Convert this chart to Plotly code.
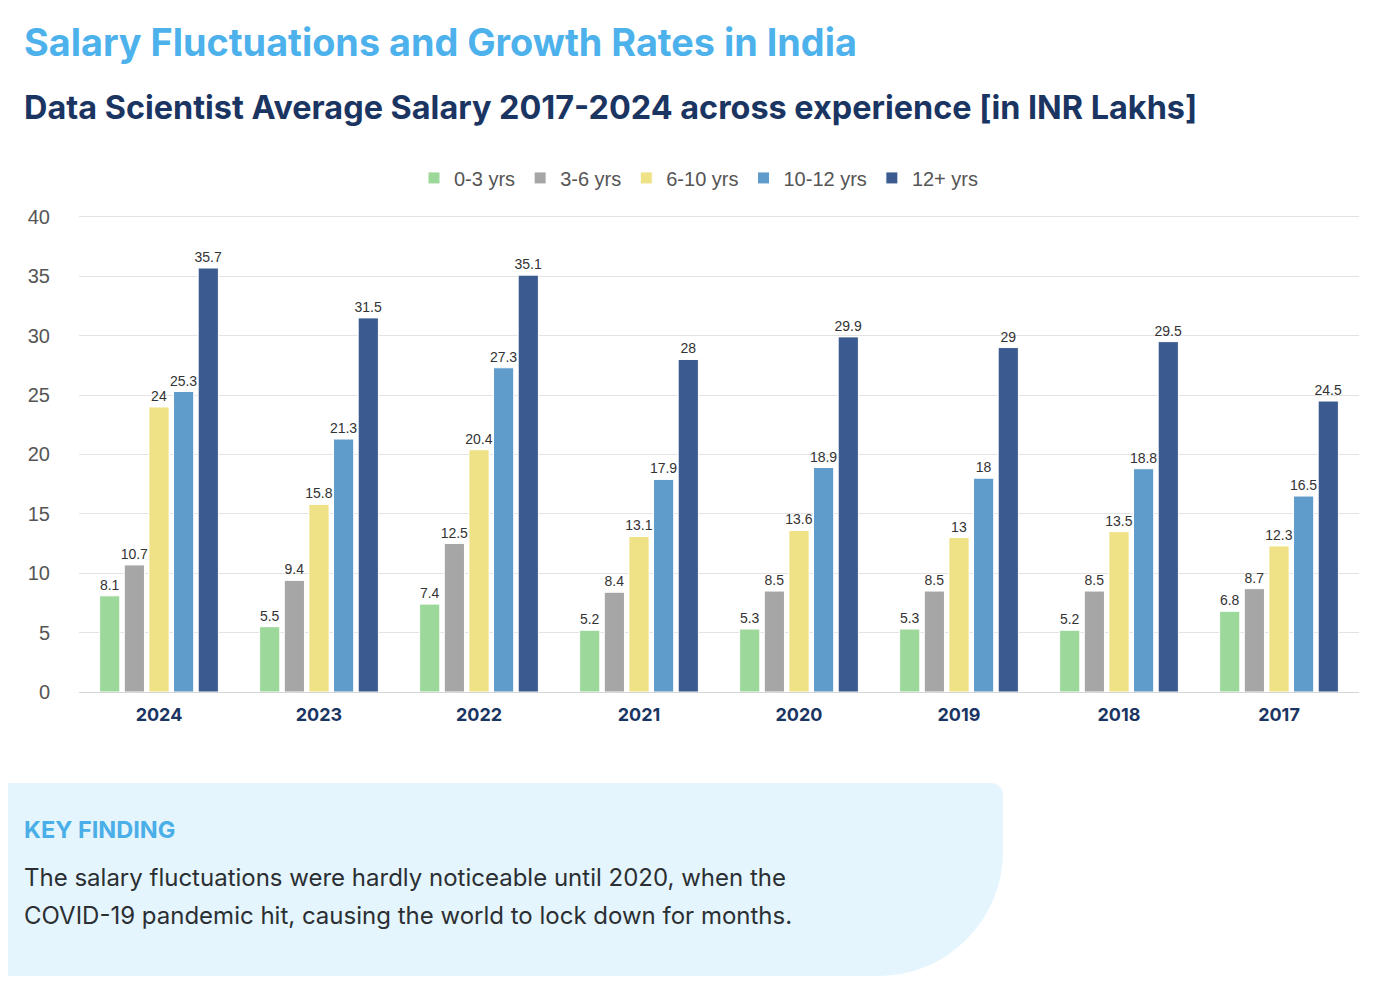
import plotly.graph_objects as go

years = ["2024", "2023", "2022", "2021", "2020", "2019", "2018", "2017"]
series_names = ["0-3 yrs", "3-6 yrs", "6-10 yrs", "10-12 yrs", "12+ yrs"]
exp_0_3 = [8.1, 5.5, 7.4, 5.2, 5.3, 5.3, 5.2, 6.8]
exp_3_6 = [10.7, 9.4, 12.5, 8.4, 8.5, 8.5, 8.5, 8.7]
exp_6_10 = [24, 15.8, 20.4, 13.1, 13.6, 13, 13.5, 12.3]
exp_10_12 = [25.3, 21.3, 27.3, 17.9, 18.9, 18, 18.8, 16.5]
exp_12_plus = [35.7, 31.5, 35.1, 28, 29.9, 29, 29.5, 24.5]
colors = ["#9dd89b", "#a6a6a6", "#efe185", "#5f9bcb", "#3b5a8f"]

all_series = [exp_0_3, exp_3_6, exp_6_10, exp_10_12, exp_12_plus]

fig = go.Figure()
for name, vals, col in zip(series_names, all_series, colors):
    fig.add_trace(go.Bar(
        x=years, y=vals, name=name,
        marker=dict(color=col, line=dict(color="white", width=1)),
        text=[f"{v:g}" for v in vals], textposition="outside",
        textfont=dict(family="Liberation Sans, Arial", size=14, color="#333333"),
        constraintext="none", cliponaxis=False,
    ))

OFF = 8  # page body margin
W, H = 1400 - OFF, 988 - OFF
YMAX = 40.5
# target page-pixel positions of the plot area (y=0 at 692, y=40 at 217)
L, R, B = 79, 1359, 692
T = B - (B - 217) * YMAX / 40

def px(x):
    return (x - L) / (R - L)

def py(y):
    return (B - y) / (B - T)

# key-finding box path (left edge flush, small top-right radius, large bottom-right radius)
x0, x1, y0, y1 = OFF - 2, 1003, 783, 976
r1, r2 = 12, 125
k = 0.5523
pts = [
    f"M {px(x0)},{py(y0)}",
    f"L {px(x1 - r1)},{py(y0)}",
    f"C {px(x1 - r1 + k*r1)},{py(y0)} {px(x1)},{py(y0 + r1 - k*r1)} {px(x1)},{py(y0 + r1)}",
    f"L {px(x1)},{py(y1 - r2)}",
    f"C {px(x1)},{py(y1 - r2 + k*r2)} {px(x1 - r2 + k*r2)},{py(y1)} {px(x1 - r2)},{py(y1)}",
    f"L {px(x0)},{py(y1)} Z",
]
fig.add_shape(type="path", path=" ".join(pts), xref="paper", yref="paper",
              fillcolor="#e4f5fd", line=dict(width=0), layer="below")

annos = [
    dict(text="<b>Salary Fluctuations and Growth Rates in India</b>", x=px(22), y=py(42),
         font=dict(family="Inter", size=37.8, color="#4db1ec")),
    dict(text="<b>Data Scientist Average Salary 2017-2024 across experience [in INR Lakhs]</b>",
         x=px(22), y=py(108), font=dict(family="Inter", size=32.4, color="#1b3563")),
    dict(text="<b>KEY FINDING</b>", x=px(22), y=py(829),
         font=dict(family="Inter", size=23.5, color="#4aaee8")),
    dict(text="The salary fluctuations were hardly noticeable until 2020, when the", x=px(22), y=py(877),
         font=dict(family="Inter", size=24, color="#2b2f33")),
    dict(text="COVID-19 pandemic hit, causing the world to lock down for months.", x=px(22), y=py(915),
         font=dict(family="Inter", size=24, color="#2b2f33")),
]
for a in annos:
    fig.add_annotation(xref="paper", yref="paper", xanchor="left", yanchor="middle",
                       showarrow=False, **a)

fig.update_layout(
    width=W, height=H,
    margin=dict(l=L - OFF, r=W - (R - OFF), t=T - OFF, b=H - (B - OFF), pad=0),
    paper_bgcolor="white", plot_bgcolor="white",
    barmode="group", bargap=0.23, bargroupgap=0.18,
    legend=dict(orientation="h", x=px(699), y=py(178), xanchor="center", yanchor="middle",
                font=dict(family="Liberation Sans, Arial", size=20, color="#555555"),
                itemwidth=30, traceorder="normal"),
    showlegend=True,
    font=dict(family="Liberation Sans, Arial"),
)
fig.update_yaxes(range=[0, YMAX], tickvals=[0, 5, 10, 15, 20, 25, 30, 35, 40],
                 showgrid=True, gridcolor="#e3e3e3", gridwidth=1,
                 zeroline=True, zerolinecolor="#d6d6d6", zerolinewidth=1,
                 tickfont=dict(family="Liberation Sans, Arial", size=20, color="#555555"),
                 ticks="", ticklabelstandoff=28, showline=False)
fig.update_xaxes(type="category", showline=False,
                 tickfont=dict(family="Inter", size=18, color="#1b3563", weight="bold"),
                 ticks="", ticklabelstandoff=10)

fig.write_html("out.html")
